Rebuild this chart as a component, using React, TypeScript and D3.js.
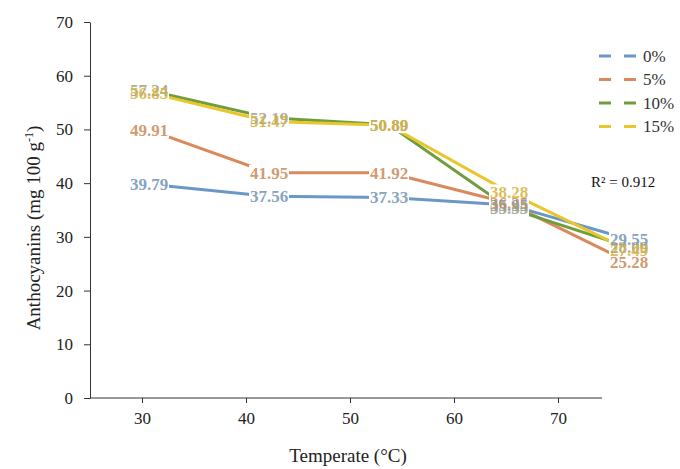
import React, { useRef, useEffect } from "react";
import * as d3 from "d3";

const temps = [30, 40, 50, 60, 70];
const yTicks = [0, 10, 20, 30, 40, 50, 60, 70];
const seriesNames = ["0%", "5%", "10%", "15%"];
const lineColors = ["#6a98c6", "#d98a5c", "#6f9d3e", "#e8c62c"];
const labelColors = ["#7393b6", "#c98a5a", "#a0a07a", "#d6b23c"];

const s0 = [39.79, 37.56, 37.33, 35.95, 29.55];
const s5 = [49.91, 41.95, 41.92, 36.25, 25.28];
const s10 = [57.24, 52.19, 50.89, 35.35, 28.09];
const s15 = [56.85, 51.47, 50.8, 38.28, 27.49];
const allSeries = [s0, s5, s10, s15];

const W = 680;
const H = 469;

const App = () => {
  const ref = useRef<SVGSVGElement>(null);

  useEffect(() => {
    if (!ref.current) return;
    const svg = d3.select(ref.current);
    svg.selectAll("*").remove();

    const font = "'Liberation Serif', 'Times New Roman', serif";

    // axis ticks and the plotted points sit on slightly different spacing in the original
    const xAxisScale = d3.scaleLinear().domain([30, 70]).range([142, 558]);
    const xPt = d3.scaleLinear().domain([30, 70]).range([149, 629]);
    const y = d3.scaleLinear().domain([0, 70]).range([398, 22]);

    // y axis
    const gy = svg
      .append("g")
      .attr("transform", "translate(90,0)")
      .call(d3.axisLeft(y).tickValues(yTicks).tickSize(6).tickPadding(11).tickSizeOuter(0));
    gy.attr("font-family", null).attr("font-size", null);
    gy.select(".domain").attr("stroke", "#333");
    gy.selectAll("line").attr("stroke", "#333");
    gy.selectAll("text")
      .style("font-family", font)
      .style("font-size", "17px")
      .attr("fill", "#222");

    // x axis
    const gx = svg
      .append("g")
      .attr("transform", "translate(0,398)")
      .call(d3.axisBottom(xAxisScale).tickValues(temps).tickSize(5).tickPadding(9));
    gx.attr("font-family", null).attr("font-size", null);
    gx.select(".domain").remove();
    gx.selectAll("line").attr("stroke", "#333");
    gx.selectAll("text")
      .style("font-family", font)
      .style("font-size", "17px")
      .attr("fill", "#222");
    svg
      .append("line")
      .attr("x1", 90)
      .attr("x2", 602)
      .attr("y1", 398)
      .attr("y2", 398)
      .attr("stroke", "#333");

    // lines
    const line = d3
      .line<number>()
      .x((_, i) => xPt(temps[i]))
      .y((d) => y(d));
    allSeries.forEach((s, k) => {
      svg
        .append("path")
        .datum(s)
        .attr("fill", "none")
        .attr("stroke", lineColors[k])
        .attr("stroke-width", 3)
        .attr("d", line);
    });

    // label backgrounds first, then texts
    allSeries.forEach((s) => {
      s.forEach((v, i) => {
        svg
          .append("rect")
          .attr("x", xPt(temps[i]) - 20)
          .attr("y", y(v) - 8)
          .attr("width", 40)
          .attr("height", 16)
          .attr("fill", "#fff");
      });
    });
    allSeries.forEach((s, k) => {
      s.forEach((v, i) => {
        svg
          .append("text")
          .attr("x", xPt(temps[i]))
          .attr("y", y(v))
          .attr("dy", "0.35em")
          .attr("text-anchor", "middle")
          .style("font-family", font)
          .style("font-size", "17px")
          .attr("font-weight", "bold")
          .attr("fill", labelColors[k])
          .attr("opacity", 0.85)
          .text(v.toFixed(2));
      });
    });

    // legend
    seriesNames.forEach((name, k) => {
      const ly = 56 + k * 23.5;
      svg
        .append("line")
        .attr("x1", 599)
        .attr("x2", 642)
        .attr("y1", ly)
        .attr("y2", ly)
        .attr("stroke", lineColors[k])
        .attr("stroke-width", 3)
        .attr("stroke-dasharray", "12,13");
      svg
        .append("text")
        .attr("x", 643)
        .attr("y", ly)
        .attr("dy", "0.35em")
        .style("font-family", font)
        .style("font-size", "17px")
        .attr("fill", "#333")
        .text(name);
    });

    svg
      .append("text")
      .attr("x", 591)
      .attr("y", 187)
      .style("font-family", font)
      .style("font-size", "15px")
      .attr("fill", "#111")
      .text("R² = 0.912");

    // axis titles
    svg
      .append("text")
      .attr("x", 348)
      .attr("y", 462)
      .attr("text-anchor", "middle")
      .style("font-family", font)
      .style("font-size", "19px")
      .attr("fill", "#222")
      .text("Temperate (°C)");

    const yt = svg
      .append("text")
      .attr("transform", "translate(40,228) rotate(-90)")
      .attr("text-anchor", "middle")
      .style("font-family", font)
      .style("font-size", "19px")
      .attr("fill", "#222");
    yt.append("tspan").text("Anthocyanins (mg 100 g");
    yt.append("tspan").style("font-size", "12px").attr("dy", -7).text("-1");
    yt.append("tspan").attr("dy", 7).text(")");
  }, []);

  return (
    <svg
      ref={ref}
      width={W}
      height={H}
      style={{ position: "absolute", left: 0, top: 0, background: "#fff" }}
    />
  );
};

export default App;
